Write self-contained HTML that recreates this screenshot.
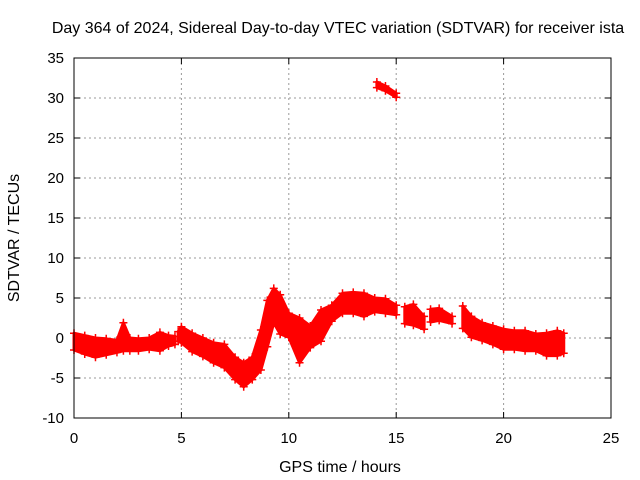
<!DOCTYPE html>
<html><head><meta charset="utf-8"><style>
body{margin:0;background:#fff}
svg{display:block;font-family:"Liberation Sans",sans-serif}
</style></head><body>
<svg id="chart" width="640" height="480">
<text x="338" y="33" font-size="16" text-anchor="middle">Day 364 of 2024, Sidereal Day-to-day VTEC variation (SDTVAR) for receiver ista</text>
<text x="340" y="472" font-size="16" text-anchor="middle">GPS time / hours</text>
<text transform="translate(19,238) rotate(-90)" font-size="16" text-anchor="middle">SDTVAR / TECUs</text>
<g id="grid"></g><g id="marks"></g>
<rect x="74" y="58" width="537" height="360" fill="none" stroke="#000" stroke-width="1"/>
</svg>
<script>
const xTicks=[0,5,10,15,20,25];
const yTicks=[-10,-5,0,5,10,15,20,25,30,35];
const seg1T=[0,0.5,1,1.5,2,2.3,2.6,3,3.5,4,4.4,4.7];
const seg1Hi=[0.6,0.3,0,-0.1,-0.3,1.9,0,-0.1,0,0.7,0.3,0.2];
const seg1Lo=[-1.5,-2,-2.4,-2.1,-1.8,-1.6,-1.6,-1.6,-1.4,-1.6,-1,-0.8];
const seg2T=[4.85,5,5.5,6,6.5,7,7.5,7.9,8.3,8.7,9,9.3,9.6,10,10.5,11,11.5,12,12.5,13,13.5,14,14.5,15];
const seg2Hi=[0.8,1.4,0.6,0,-0.6,-0.8,-2.4,-3.1,-2.4,1,4.7,6.2,5.4,3.1,2.5,1.5,3.5,4.1,5.6,5.7,5.6,5,4.9,4.1];
const seg2Lo=[-0.4,-0.6,-1.7,-2.3,-3.1,-3.7,-5.2,-6.1,-5.2,-4,-1.1,1.9,0.5,0.1,-3.1,-1.2,-0.4,2.1,3.1,3.1,2.7,3.3,3.1,2.9];
const seg3T=[15.4,15.8,16.3];
const seg3Hi=[3.9,4.2,2.7];
const seg3Lo=[1.8,1.6,1.1];
const seg4T=[16.6,17,17.6];
const seg4Hi=[3.6,3.7,2.7];
const seg4Lo=[2,2.2,1.8];
const seg5T=[18.1,18.5,19,19.5,20,20.5,21,21.5,22,22.5,22.8];
const seg5Hi=[4,2.7,1.9,1.5,1.1,0.9,0.9,0.5,0.6,0.9,0.6];
const seg5Lo=[1.2,0.1,-0.3,-0.8,-1.4,-1.4,-1.6,-1.6,-2.2,-2.2,-1.9];
const seg6T=[14.1,14.5,15];
const seg6Hi=[32.0,31.5,30.6];
const seg6Lo=[31.3,30.9,30.1];
const X=t=>74+t*537/25, Y=v=>338-v*8;
const NS='http://www.w3.org/2000/svg';
const grid=document.getElementById('grid'), marks=document.getElementById('marks');
function mk(tag,attrs,parent){const e=document.createElementNS(NS,tag);for(const k in attrs)e.setAttribute(k,attrs[k]);parent.appendChild(e);return e;}
xTicks.forEach(t=>{
  if(t>0&&t<25){const l=mk('line',{x1:X(t),x2:X(t),y1:58,y2:418,stroke:'#999','stroke-dasharray':'2,3'},grid);
  
  }
  mk('line',{x1:X(t),x2:X(t),y1:418,y2:412,stroke:'#000'},grid);
  mk('line',{x1:X(t),x2:X(t),y1:58,y2:64,stroke:'#000'},grid);
  const tx=mk('text',{x:X(t),y:443,'font-size':15,'text-anchor':'middle'},grid);tx.textContent=t;
  
  
});
yTicks.forEach(v=>{
  if(v>-10&&v<35){const l=mk('line',{x1:74,x2:611,y1:Y(v),y2:Y(v),stroke:'#999','stroke-dasharray':'2,3'},grid);
  
  }
  mk('line',{x1:74,x2:80,y1:Y(v),y2:Y(v),stroke:'#000'},grid);
  mk('line',{x1:611,x2:605,y1:Y(v),y2:Y(v),stroke:'#000'},grid);
  const tx=mk('text',{x:64,y:Y(v)+5,'font-size':15,'text-anchor':'end'},grid);tx.textContent=v;
  
  
});
function band(T,H,L,name){
  let pts=T.map((t,i)=>X(t)+','+Y(H[i]));
  for(let i=T.length-1;i>=0;i--)pts.push(X(T[i])+','+Y(L[i]));
  const p=mk('polygon',{points:pts.join(' '),fill:'#f00',stroke:'#f00','stroke-width':3,'stroke-linejoin':'round'},marks);
  
  
  T.forEach((t,i)=>{[H[i],L[i]].forEach(v=>{
    const x=X(t),y=Y(v);
    mk('path',{d:`M${x-4},${y}h8M${x},${y-4}v8`,stroke:'#f00','stroke-width':1.5},marks);
  });});
}
band(seg1T,seg1Hi,seg1Lo,'series-segment-1');
band(seg2T,seg2Hi,seg2Lo,'series-segment-2');
band(seg3T,seg3Hi,seg3Lo,'series-segment-3');
band(seg4T,seg4Hi,seg4Lo,'series-segment-4');
band(seg5T,seg5Hi,seg5Lo,'series-segment-5');
band(seg6T,seg6Hi,seg6Lo,'series-outlier');
</script>
</body></html>
